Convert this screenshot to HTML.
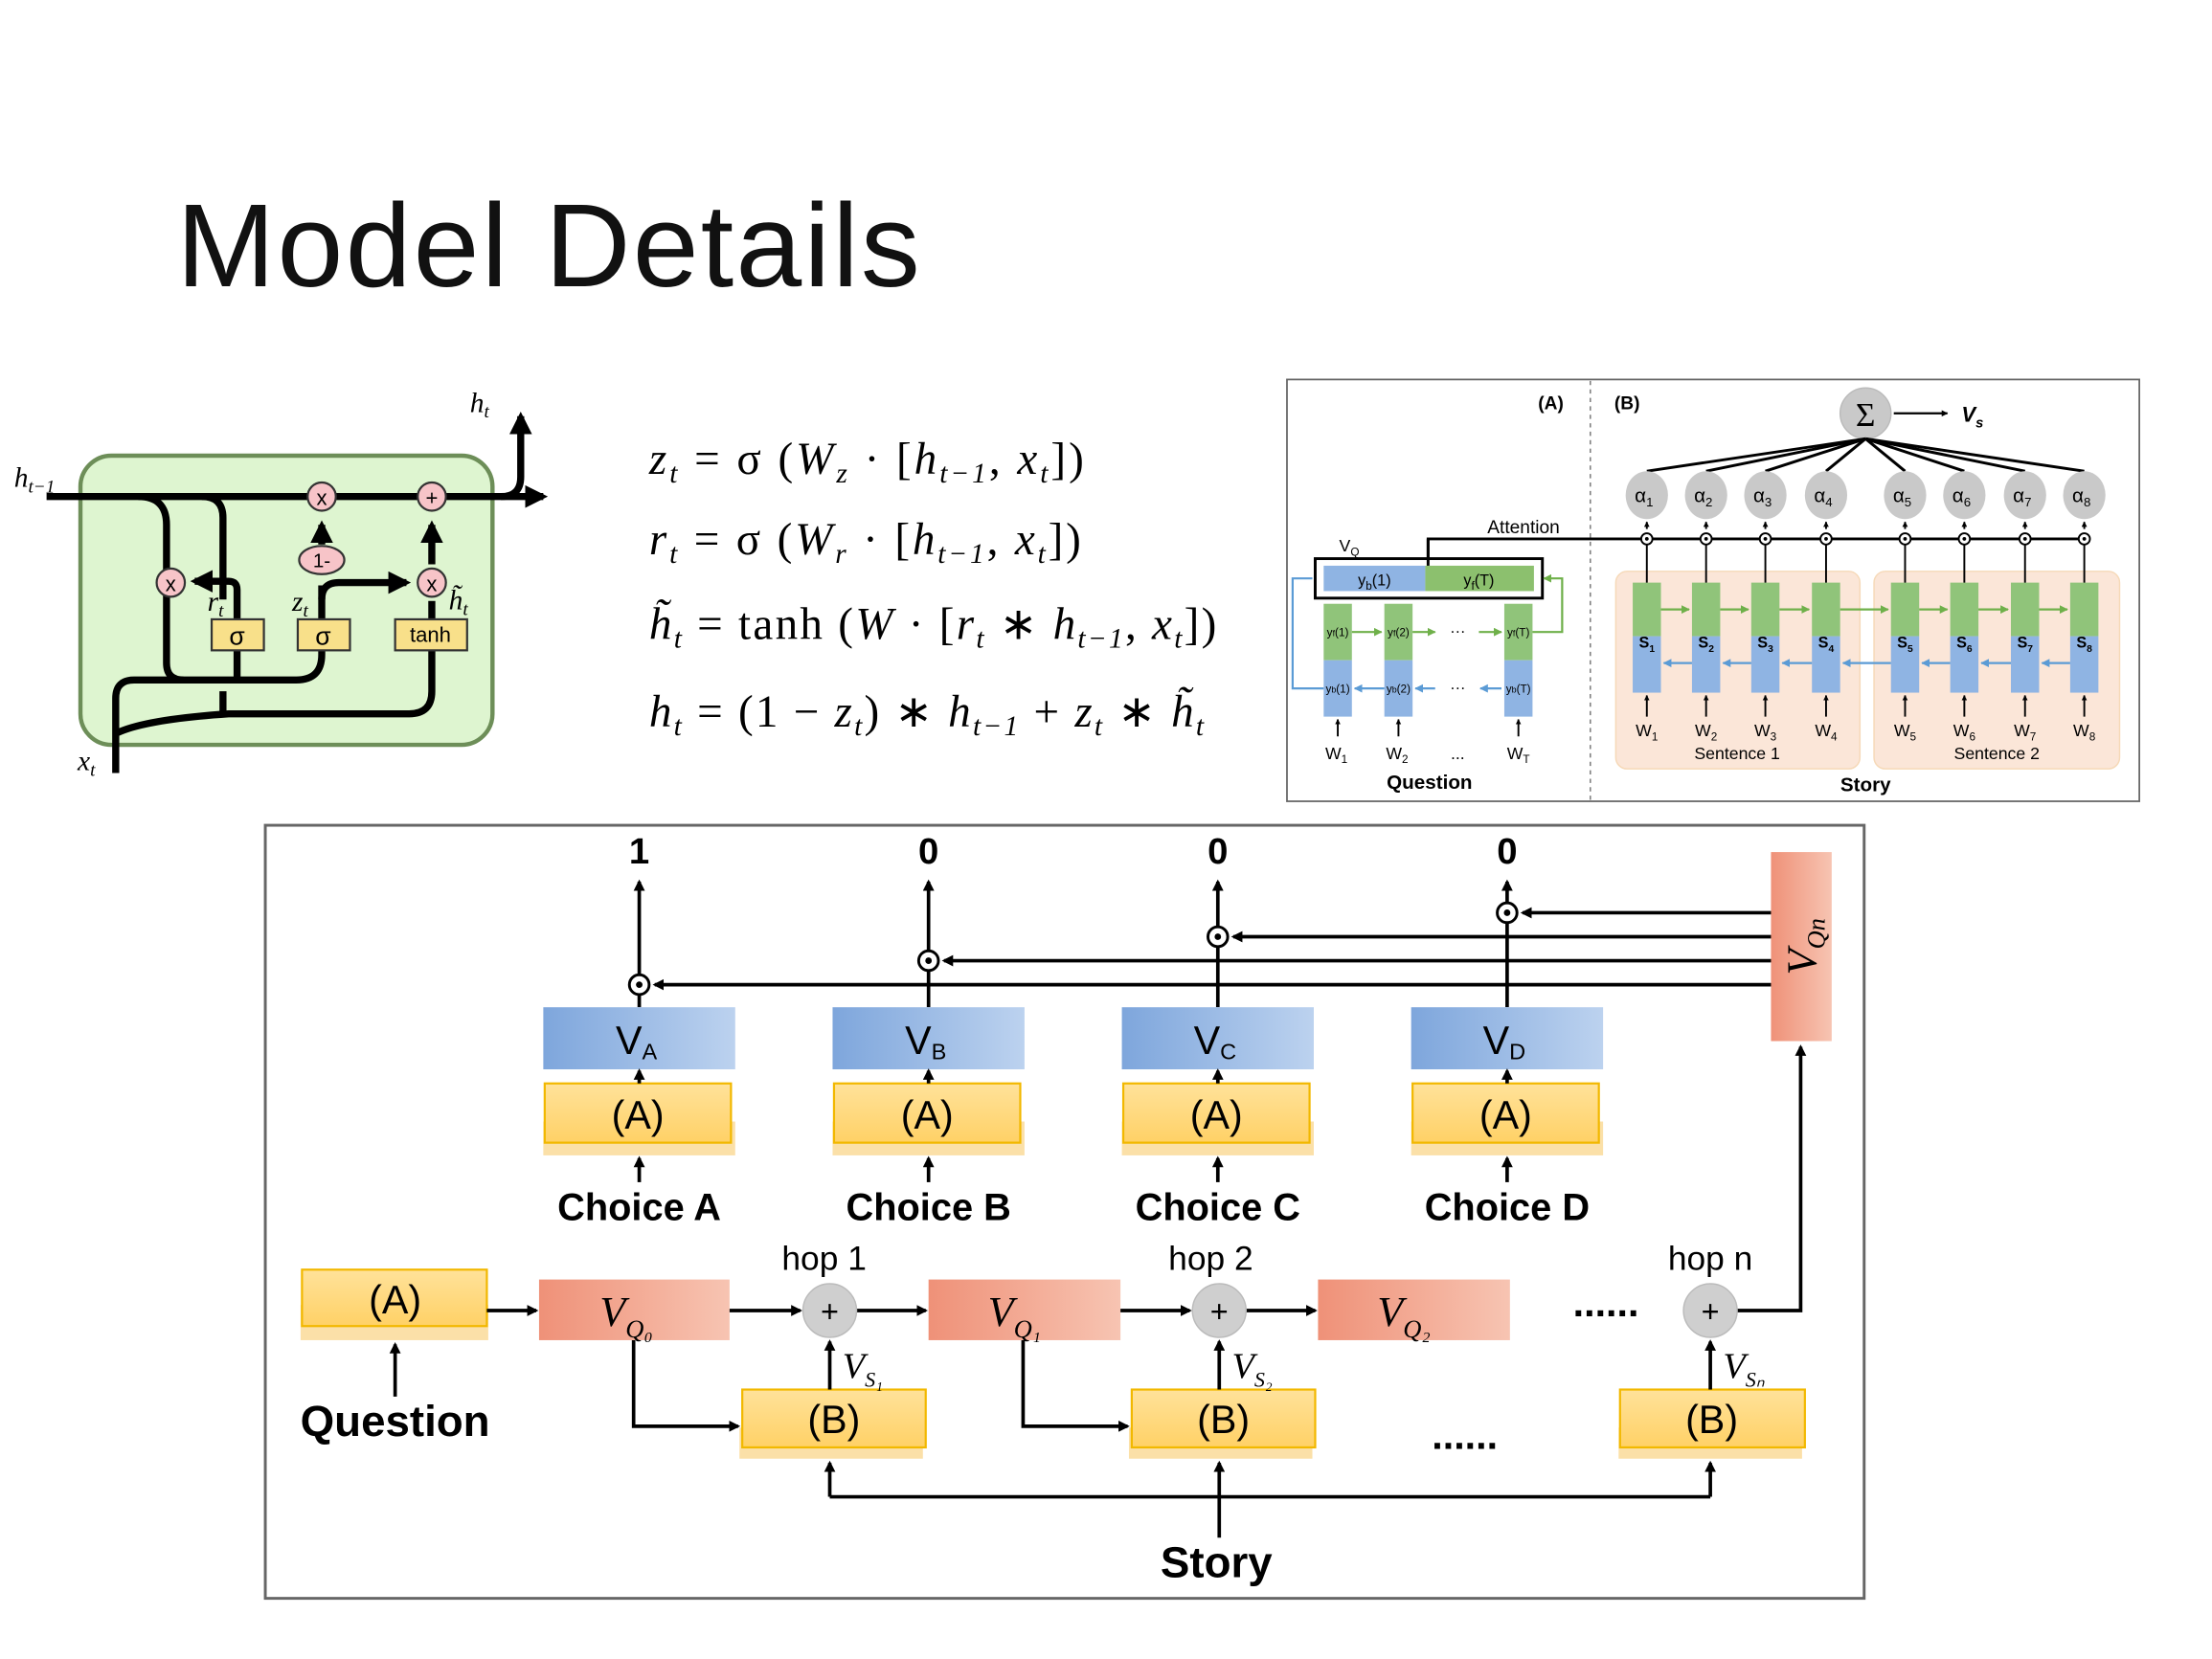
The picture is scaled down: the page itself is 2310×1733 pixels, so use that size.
<!DOCTYPE html>
<html><head><meta charset="utf-8"><style>
html,body{margin:0;padding:0;background:#fff;}
svg{display:block;}
.s{font-family:"Liberation Sans",sans-serif;}
.m{font-family:"Liberation Serif",serif;font-style:italic;}
.r{font-family:"Liberation Serif",serif;}
</style></head><body>
<svg width="2310" height="1733" viewBox="0 0 1567.5 1176" preserveAspectRatio="none" xmlns="http://www.w3.org/2000/svg">
<defs>
<marker id="ah" viewBox="0 0 10 10" refX="9" refY="5" markerWidth="4" markerHeight="4" orient="auto-start-reverse"><path d="M0,0L10,5L0,10z" fill="#000"/></marker>
<marker id="ab" viewBox="0 0 10 10" refX="9" refY="5" markerWidth="3" markerHeight="3" orient="auto"><path d="M0,0L10,5L0,10z" fill="#000"/></marker>
<marker id="ag" viewBox="0 0 10 10" refX="9" refY="5" markerWidth="4" markerHeight="4" orient="auto"><path d="M0,0L10,5L0,10z" fill="#6fb04a"/></marker>
<marker id="abl" viewBox="0 0 10 10" refX="9" refY="5" markerWidth="4" markerHeight="4" orient="auto"><path d="M0,0L10,5L0,10z" fill="#5b9bd5"/></marker>
<marker id="big" viewBox="0 0 10 10" refX="8" refY="5" markerWidth="3.2" markerHeight="3.2" orient="auto"><path d="M0,0L10,5L0,10z" fill="#000"/></marker>
<linearGradient id="gb" x1="0" x2="1"><stop offset="0" stop-color="#7ea6dc"/><stop offset="1" stop-color="#bcd2ef"/></linearGradient>
<linearGradient id="gs" x1="0" x2="1"><stop offset="0" stop-color="#ef9178"/><stop offset="1" stop-color="#f7c4b2"/></linearGradient>
<linearGradient id="gy" x1="0" x2="0" y1="0" y2="1"><stop offset="0" stop-color="#ffe29a"/><stop offset="1" stop-color="#ffd166"/></linearGradient>
</defs>

<text x="125" y="203" class="s" font-size="84" textLength="527" fill="#111">Model Details</text>

<!-- GRU -->
<rect x="57" y="323" width="292" height="205" rx="22" fill="#def5d0" stroke="#6d8e58" stroke-width="3"/>
<g fill="none" stroke="#000" stroke-width="5">
<path d="M33,352H385" marker-end="url(#big)"/>
<path d="M355,352q14,0 14,-14V295" marker-end="url(#big)"/>
<path d="M98,352q20,0 20,20V470q0,12 12,12H210q18,0 18,-18V460"/>
<path d="M168,460V482"/>
<path d="M143,352q15,0 15,15V425"/>
<path d="M82,548V495q0,-13 13,-13H130"/>
<path d="M82,520q20,-10 80,-14H290q16,0 16,-16V461"/>
<path d="M158,490V505"/>
<path d="M228,439V415"/>
<path d="M228,386V372" marker-end="url(#big)"/>
<path d="M168,439V418q0,-6 -6,-6H138" marker-end="url(#big)"/>
<path d="M228,425q0,-12 12,-12H288" marker-end="url(#big)"/>
<path d="M306,439V426"/>
<path d="M306,400V372" marker-end="url(#big)"/>
</g>
<g stroke="#333" stroke-width="1.5" fill="#f7c4c8">
<circle cx="228" cy="352" r="10"/><circle cx="306" cy="352" r="10"/>
<circle cx="121" cy="413" r="10"/><circle cx="306" cy="413" r="10"/>
<ellipse cx="228" cy="397" rx="16" ry="10"/>
</g>
<g class="s" font-size="15" text-anchor="middle">
<text x="228" y="358">x</text><text x="306" y="358">+</text><text x="121" y="419">x</text><text x="306" y="419">x</text><text x="228" y="402" font-size="14">1-</text>
</g>
<g fill="#f8e08a" stroke="#333" stroke-width="1.5">
<rect x="150" y="439" width="37" height="22"/><rect x="211" y="439" width="37" height="22"/><rect x="280" y="439" width="51" height="22"/>
</g>
<g class="s" text-anchor="middle"><text x="168" y="457" font-size="18">σ</text><text x="229" y="457" font-size="18">σ</text><text x="305" y="455" font-size="15">tanh</text></g>
<g class="m" font-size="20">
<text x="10" y="345">h<tspan font-size="13" dy="4">t−1</tspan></text>
<text x="333" y="292">h<tspan font-size="13" dy="4">t</tspan></text>
<text x="147" y="433">r<tspan font-size="13" dy="4">t</tspan></text>
<text x="207" y="433">z<tspan font-size="13" dy="4">t</tspan></text>
<text x="318" y="432">h̃<tspan font-size="13" dy="4">t</tspan></text>
<text x="55" y="546">x<tspan font-size="13" dy="4">t</tspan></text>
</g>

<!-- equations -->
<g font-size="32" class="r">
<text x="460" y="336" textLength="308" lengthAdjust="spacing"><tspan font-style="italic">z</tspan><tspan font-size="20" font-style="italic" dy="6">t</tspan><tspan dy="-6"> = σ (</tspan><tspan font-style="italic">W</tspan><tspan font-size="20" font-style="italic" dy="6">z</tspan><tspan dy="-6"> · [</tspan><tspan font-style="italic">h</tspan><tspan font-size="20" font-style="italic" dy="6">t−1</tspan><tspan dy="-6">, </tspan><tspan font-style="italic">x</tspan><tspan font-size="20" font-style="italic" dy="6">t</tspan><tspan dy="-6">])</tspan></text>
<text x="460" y="393" textLength="306" lengthAdjust="spacing"><tspan font-style="italic">r</tspan><tspan font-size="20" font-style="italic" dy="6">t</tspan><tspan dy="-6"> = σ (</tspan><tspan font-style="italic">W</tspan><tspan font-size="20" font-style="italic" dy="6">r</tspan><tspan dy="-6"> · [</tspan><tspan font-style="italic">h</tspan><tspan font-size="20" font-style="italic" dy="6">t−1</tspan><tspan dy="-6">, </tspan><tspan font-style="italic">x</tspan><tspan font-size="20" font-style="italic" dy="6">t</tspan><tspan dy="-6">])</tspan></text>
<text x="460" y="453" textLength="402" lengthAdjust="spacing"><tspan font-style="italic">h̃</tspan><tspan font-size="20" font-style="italic" dy="6">t</tspan><tspan dy="-6"> = tanh (</tspan><tspan font-style="italic">W</tspan><tspan> · [</tspan><tspan font-style="italic">r</tspan><tspan font-size="20" font-style="italic" dy="6">t</tspan><tspan dy="-6"> ∗ </tspan><tspan font-style="italic">h</tspan><tspan font-size="20" font-style="italic" dy="6">t−1</tspan><tspan dy="-6">, </tspan><tspan font-style="italic">x</tspan><tspan font-size="20" font-style="italic" dy="6">t</tspan><tspan dy="-6">])</tspan></text>
<text x="460" y="515" textLength="393" lengthAdjust="spacing"><tspan font-style="italic">h</tspan><tspan font-size="20" font-style="italic" dy="6">t</tspan><tspan dy="-6"> = (1 − </tspan><tspan font-style="italic">z</tspan><tspan font-size="20" font-style="italic" dy="6">t</tspan><tspan dy="-6">) ∗ </tspan><tspan font-style="italic">h</tspan><tspan font-size="20" font-style="italic" dy="6">t−1</tspan><tspan dy="-6"> + </tspan><tspan font-style="italic">z</tspan><tspan font-size="20" font-style="italic" dy="6">t</tspan><tspan dy="-6"> ∗ </tspan><tspan font-style="italic">h̃</tspan><tspan font-size="20" font-style="italic" dy="6">t</tspan></text>
</g>

<!-- Panel A/B -->
<rect x="912" y="269" width="604" height="299" fill="#fff" stroke="#666" stroke-width="1.2"/>
<line x1="1127" y1="270" x2="1127" y2="567" stroke="#555" stroke-dasharray="3,3" stroke-width="0.8"/>
<g class="s" font-weight="bold" font-size="13"><text x="1090" y="290">(A)</text><text x="1144" y="290">(B)</text>
<text x="1013" y="559" text-anchor="middle" font-size="14">Question</text><text x="1322" y="561" text-anchor="middle" font-size="14">Story</text></g>
<circle cx="1322" cy="293" r="18" fill="#c9c9c9" stroke="#bbb"/>
<text x="1322" y="302" text-anchor="middle" class="r" font-size="24">Σ</text>
<path d="M1342,293H1380" stroke="#000" stroke-width="1.5" marker-end="url(#ab)"/>
<text x="1390" y="299" class="s" font-style="italic" font-weight="bold" font-size="15">V<tspan font-size="10" dy="4">s</tspan></text>
<rect x="1145" y="405" width="173" height="140" rx="8" fill="#fbe6d8" stroke="#f6d9b8"/>
<rect x="1328" y="405" width="174" height="140" rx="8" fill="#fbe6d8" stroke="#f6d9b8"/>
<g stroke="#000" stroke-width="2">
<line x1="1167" y1="334" x2="1322" y2="311"/><line x1="1209" y1="334" x2="1322" y2="311"/><line x1="1251" y1="334" x2="1322" y2="311"/><line x1="1294" y1="334" x2="1322" y2="311"/>
<line x1="1350" y1="334" x2="1322" y2="311"/><line x1="1392" y1="334" x2="1322" y2="311"/><line x1="1435" y1="334" x2="1322" y2="311"/><line x1="1477" y1="334" x2="1322" y2="311"/>
<path d="M1012,397V382H1477" fill="none"/>
</g>
<rect x="932" y="396" width="161" height="28" fill="#fff" stroke="#000" stroke-width="2"/>
<rect x="938" y="401" width="72" height="18" fill="#8fb4e3"/><rect x="1010" y="401" width="77" height="18" fill="#8cc06e"/>
<line x1="1012" y1="382" x2="1012" y2="401" stroke="#000" stroke-width="2"/>
<g class="s" font-size="11" text-anchor="middle"><text x="974" y="415">y<tspan font-size="8" dy="3">b</tspan><tspan dy="-3">(1)</tspan></text><text x="1048" y="415">y<tspan font-size="8" dy="3">f</tspan><tspan dy="-3">(T)</tspan></text></g>
<text x="949" y="391" class="s" font-size="12">V<tspan font-size="8" dy="3">Q</tspan></text>
<text x="1054" y="378" class="s" font-size="13">Attention</text>
<g>
<rect x="938" y="428" width="20" height="40" fill="#90c47a"/><rect x="938" y="468" width="20" height="40" fill="#8fb4e3"/>
<rect x="981" y="428" width="20" height="40" fill="#90c47a"/><rect x="981" y="468" width="20" height="40" fill="#8fb4e3"/>
<rect x="1066" y="428" width="20" height="40" fill="#90c47a"/><rect x="1066" y="468" width="20" height="40" fill="#8fb4e3"/>
</g>
<g class="s" font-size="8" text-anchor="middle"><text x="948" y="451">y<tspan font-size="6">f</tspan>(1)</text><text x="991" y="451">y<tspan font-size="6">f</tspan>(2)</text><text x="1076" y="451">y<tspan font-size="6">f</tspan>(T)</text>
<text x="948" y="491">y<tspan font-size="6">b</tspan>(1)</text><text x="991" y="491">y<tspan font-size="6">b</tspan>(2)</text><text x="1076" y="491">y<tspan font-size="6">b</tspan>(T)</text>
<text x="1033" y="451" font-size="11">···</text><text x="1033" y="491" font-size="11">···</text></g>
<g stroke="#6fb04a" stroke-width="1.5" fill="none"><path d="M958,448H979" marker-end="url(#ag)"/><path d="M1001,448H1017" marker-end="url(#ag)"/><path d="M1048,448H1064" marker-end="url(#ag)"/><path d="M1086,448H1107V410H1094" marker-end="url(#ag)"/></g>
<g stroke="#5b9bd5" stroke-width="1.5" fill="none"><path d="M981,488H960" marker-end="url(#abl)"/><path d="M1017,488H1003" marker-end="url(#abl)"/><path d="M1064,488H1049" marker-end="url(#abl)"/><path d="M938,488H916V410H930"/></g>
<g stroke="#000" stroke-width="1.3"><path d="M948,522V510" marker-end="url(#ab)"/><path d="M991,522V510" marker-end="url(#ab)"/><path d="M1076,522V510" marker-end="url(#ab)"/></g>
<g class="s" font-size="12" text-anchor="middle"><text x="947" y="538">W<tspan font-size="8" dy="3">1</tspan></text><text x="990" y="538">W<tspan font-size="8" dy="3">2</tspan></text><text x="1033" y="538">...</text><text x="1076" y="538">W<tspan font-size="8" dy="3">T</tspan></text></g>
<g>
<rect x="1157" y="413" width="20" height="38" fill="#90c47a"/><rect x="1157" y="451" width="20" height="40" fill="#8fb4e3"/>
<rect x="1199" y="413" width="20" height="38" fill="#90c47a"/><rect x="1199" y="451" width="20" height="40" fill="#8fb4e3"/>
<rect x="1241" y="413" width="20" height="38" fill="#90c47a"/><rect x="1241" y="451" width="20" height="40" fill="#8fb4e3"/>
<rect x="1284" y="413" width="20" height="38" fill="#90c47a"/><rect x="1284" y="451" width="20" height="40" fill="#8fb4e3"/>
<rect x="1340" y="413" width="20" height="38" fill="#90c47a"/><rect x="1340" y="451" width="20" height="40" fill="#8fb4e3"/>
<rect x="1382" y="413" width="20" height="38" fill="#90c47a"/><rect x="1382" y="451" width="20" height="40" fill="#8fb4e3"/>
<rect x="1425" y="413" width="20" height="38" fill="#90c47a"/><rect x="1425" y="451" width="20" height="40" fill="#8fb4e3"/>
<rect x="1467" y="413" width="20" height="38" fill="#90c47a"/><rect x="1467" y="451" width="20" height="40" fill="#8fb4e3"/>
</g>
<g stroke="#6fb04a" stroke-width="1.5"><path d="M1177,432H1197" marker-end="url(#ag)"/><path d="M1219,432H1239" marker-end="url(#ag)"/><path d="M1261,432H1282" marker-end="url(#ag)"/><path d="M1304,432H1338" marker-end="url(#ag)"/><path d="M1360,432H1380" marker-end="url(#ag)"/><path d="M1402,432H1423" marker-end="url(#ag)"/><path d="M1445,432H1465" marker-end="url(#ag)"/></g>
<g stroke="#5b9bd5" stroke-width="1.5"><path d="M1199,470H1179" marker-end="url(#abl)"/><path d="M1241,470H1221" marker-end="url(#abl)"/><path d="M1284,470H1263" marker-end="url(#abl)"/><path d="M1340,470H1306" marker-end="url(#abl)"/><path d="M1382,470H1362" marker-end="url(#abl)"/><path d="M1425,470H1404" marker-end="url(#abl)"/><path d="M1467,470H1447" marker-end="url(#abl)"/></g>
<g stroke="#000" stroke-width="1.3" fill="none">
<path d="M1167,413V382M1209,413V382M1251,413V382M1294,413V382M1350,413V382M1392,413V382M1435,413V382M1477,413V382"/>
<path d="M1167,375V370" marker-end="url(#ab)"/><path d="M1209,375V370" marker-end="url(#ab)"/><path d="M1251,375V370" marker-end="url(#ab)"/><path d="M1294,375V370" marker-end="url(#ab)"/><path d="M1350,375V370" marker-end="url(#ab)"/><path d="M1392,375V370" marker-end="url(#ab)"/><path d="M1435,375V370" marker-end="url(#ab)"/><path d="M1477,375V370" marker-end="url(#ab)"/>
<path d="M1167,508V493" marker-end="url(#ab)"/><path d="M1209,508V493" marker-end="url(#ab)"/><path d="M1251,508V493" marker-end="url(#ab)"/><path d="M1294,508V493" marker-end="url(#ab)"/><path d="M1350,508V493" marker-end="url(#ab)"/><path d="M1392,508V493" marker-end="url(#ab)"/><path d="M1435,508V493" marker-end="url(#ab)"/><path d="M1477,508V493" marker-end="url(#ab)"/>
</g>
<g fill="#fff" stroke="#000" stroke-width="1.3">
<circle cx="1167" cy="382" r="4"/><circle cx="1209" cy="382" r="4"/><circle cx="1251" cy="382" r="4"/><circle cx="1294" cy="382" r="4"/><circle cx="1350" cy="382" r="4"/><circle cx="1392" cy="382" r="4"/><circle cx="1435" cy="382" r="4"/><circle cx="1477" cy="382" r="4"/>
</g>
<g fill="#000"><circle cx="1167" cy="382" r="1.3"/><circle cx="1209" cy="382" r="1.3"/><circle cx="1251" cy="382" r="1.3"/><circle cx="1294" cy="382" r="1.3"/><circle cx="1350" cy="382" r="1.3"/><circle cx="1392" cy="382" r="1.3"/><circle cx="1435" cy="382" r="1.3"/><circle cx="1477" cy="382" r="1.3"/></g>
<g fill="#c9c9c9"><ellipse cx="1167" cy="351" rx="15" ry="17"/><ellipse cx="1209" cy="351" rx="15" ry="17"/><ellipse cx="1251" cy="351" rx="15" ry="17"/><ellipse cx="1294" cy="351" rx="15" ry="17"/><ellipse cx="1350" cy="351" rx="15" ry="17"/><ellipse cx="1392" cy="351" rx="15" ry="17"/><ellipse cx="1435" cy="351" rx="15" ry="17"/><ellipse cx="1477" cy="351" rx="15" ry="17"/></g>
<g class="s" font-size="14" text-anchor="middle">
<text x="1165" y="356">α<tspan font-size="9" dy="3">1</tspan></text><text x="1207" y="356">α<tspan font-size="9" dy="3">2</tspan></text><text x="1249" y="356">α<tspan font-size="9" dy="3">3</tspan></text><text x="1292" y="356">α<tspan font-size="9" dy="3">4</tspan></text><text x="1348" y="356">α<tspan font-size="9" dy="3">5</tspan></text><text x="1390" y="356">α<tspan font-size="9" dy="3">6</tspan></text><text x="1433" y="356">α<tspan font-size="9" dy="3">7</tspan></text><text x="1475" y="356">α<tspan font-size="9" dy="3">8</tspan></text>
</g>
<g class="s" font-size="11" font-weight="bold" text-anchor="middle">
<text x="1167" y="459">S<tspan font-size="7" dy="3">1</tspan></text><text x="1209" y="459">S<tspan font-size="7" dy="3">2</tspan></text><text x="1251" y="459">S<tspan font-size="7" dy="3">3</tspan></text><text x="1294" y="459">S<tspan font-size="7" dy="3">4</tspan></text><text x="1350" y="459">S<tspan font-size="7" dy="3">5</tspan></text><text x="1392" y="459">S<tspan font-size="7" dy="3">6</tspan></text><text x="1435" y="459">S<tspan font-size="7" dy="3">7</tspan></text><text x="1477" y="459">S<tspan font-size="7" dy="3">8</tspan></text>
</g>
<g class="s" font-size="12" text-anchor="middle">
<text x="1167" y="522">W<tspan font-size="8" dy="3">1</tspan></text><text x="1209" y="522">W<tspan font-size="8" dy="3">2</tspan></text><text x="1251" y="522">W<tspan font-size="8" dy="3">3</tspan></text><text x="1294" y="522">W<tspan font-size="8" dy="3">4</tspan></text><text x="1350" y="522">W<tspan font-size="8" dy="3">5</tspan></text><text x="1392" y="522">W<tspan font-size="8" dy="3">6</tspan></text><text x="1435" y="522">W<tspan font-size="8" dy="3">7</tspan></text><text x="1477" y="522">W<tspan font-size="8" dy="3">8</tspan></text>
<text x="1231" y="538">Sentence 1</text><text x="1415" y="538">Sentence 2</text>
</g>

<!-- Bottom diagram -->
<rect x="188" y="585" width="1133" height="548" fill="#fff" stroke="#666" stroke-width="2"/>
<g class="s" font-weight="bold" font-size="26" text-anchor="middle"><text x="453" y="612">1</text><text x="658" y="612">0</text><text x="863" y="612">0</text><text x="1068" y="612">0</text></g>
<g stroke="#000" stroke-width="2.5" fill="none">
<path d="M453,714V625" marker-end="url(#big)"/><path d="M658,714V625" marker-end="url(#big)"/><path d="M863,714V625" marker-end="url(#big)"/><path d="M1068,714V625" marker-end="url(#big)"/>
<path d="M1255,698H464" marker-end="url(#big)"/><path d="M1255,681H669" marker-end="url(#big)"/><path d="M1255,664H874" marker-end="url(#big)"/><path d="M1255,647H1079" marker-end="url(#big)"/>
</g>
<g fill="#fff" stroke="#000" stroke-width="2"><circle cx="453" cy="698" r="7"/><circle cx="658" cy="681" r="7"/><circle cx="863" cy="664" r="7"/><circle cx="1068" cy="647" r="7"/></g>
<g fill="#000"><circle cx="453" cy="698" r="2.3"/><circle cx="658" cy="681" r="2.3"/><circle cx="863" cy="664" r="2.3"/><circle cx="1068" cy="647" r="2.3"/></g>
<g fill="url(#gb)"><rect x="385" y="714" width="136" height="44"/><rect x="590" y="714" width="136" height="44"/><rect x="795" y="714" width="136" height="44"/><rect x="1000" y="714" width="136" height="44"/></g>
<g class="s" font-size="28" text-anchor="middle"><text x="451" y="747">V<tspan font-size="16" dy="4">A</tspan></text><text x="656" y="747">V<tspan font-size="16" dy="4">B</tspan></text><text x="861" y="747">V<tspan font-size="16" dy="4">C</tspan></text><text x="1066" y="747">V<tspan font-size="16" dy="4">D</tspan></text></g>
<g fill="#fbe0a8"><rect x="385" y="795" width="136" height="24"/><rect x="590" y="795" width="136" height="24"/><rect x="795" y="795" width="136" height="24"/><rect x="1000" y="795" width="136" height="24"/><rect x="213" y="925" width="133" height="25"/><rect x="524" y="1012" width="130" height="22"/><rect x="800" y="1012" width="130" height="22"/><rect x="1147" y="1012" width="130" height="22"/></g>
<g fill="url(#gy)" stroke="#f2b800" stroke-width="1.5">
<rect x="386" y="768" width="132" height="42"/><rect x="591" y="768" width="132" height="42"/><rect x="796" y="768" width="132" height="42"/><rect x="1001" y="768" width="132" height="42"/>
<rect x="214" y="900" width="131" height="40"/>
<rect x="526" y="985" width="130" height="41"/><rect x="802" y="985" width="130" height="41"/><rect x="1148" y="985" width="131" height="41"/>
</g>
<g class="s" font-size="28" text-anchor="middle"><text x="452" y="800">(A)</text><text x="657" y="800">(A)</text><text x="862" y="800">(A)</text><text x="1067" y="800">(A)</text><text x="280" y="931">(A)</text>
<text x="591" y="1016">(B)</text><text x="867" y="1016">(B)</text><text x="1213" y="1016">(B)</text></g>
<g stroke="#000" stroke-width="2.5" fill="none">
<path d="M453,768V759" marker-end="url(#big)"/><path d="M658,768V759" marker-end="url(#big)"/><path d="M863,768V759" marker-end="url(#big)"/><path d="M1068,768V759" marker-end="url(#big)"/>
<path d="M453,838V821" marker-end="url(#big)"/><path d="M658,838V821" marker-end="url(#big)"/><path d="M863,838V821" marker-end="url(#big)"/><path d="M1068,838V821" marker-end="url(#big)"/>
</g>
<g class="s" font-weight="bold" font-size="27" text-anchor="middle"><text x="453" y="865">Choice A</text><text x="658" y="865">Choice B</text><text x="863" y="865">Choice C</text><text x="1068" y="865">Choice D</text>
<text x="280" y="1018" font-size="31">Question</text><text x="862" y="1118" font-size="31">Story</text></g>
<rect x="1255" y="604" width="43" height="134" fill="url(#gs)"/>
<text transform="translate(1287,671) rotate(-90)" class="m" font-size="30" text-anchor="middle">V<tspan font-size="18" dy="6">Qn</tspan></text>
<g fill="url(#gs)"><rect x="382" y="907" width="135" height="43"/><rect x="658" y="907" width="136" height="43"/><rect x="934" y="907" width="136" height="43"/></g>
<g class="m" font-size="30"><text x="425" y="940">V<tspan font-size="18" dy="8">Q₀</tspan></text><text x="700" y="940">V<tspan font-size="18" dy="8">Q₁</tspan></text><text x="976" y="940">V<tspan font-size="18" dy="8">Q₂</tspan></text></g>
<g stroke="#000" stroke-width="2.5" fill="none">
<path d="M345,929H380" marker-end="url(#big)"/>
<path d="M517,929H567" marker-end="url(#big)"/><path d="M607,929H656" marker-end="url(#big)"/>
<path d="M794,929H843" marker-end="url(#big)"/><path d="M883,929H932" marker-end="url(#big)"/>
<path d="M1231,929H1276V742" marker-end="url(#big)"/>
<path d="M588,985V951" marker-end="url(#big)"/><path d="M864,985V951" marker-end="url(#big)"/><path d="M1212,985V951" marker-end="url(#big)"/>
<path d="M449,950V1011H523" marker-end="url(#big)"/><path d="M725,950V1011H799" marker-end="url(#big)"/>
<path d="M280,990V953" marker-end="url(#big)"/>
<path d="M864,1090V1037" marker-end="url(#big)"/>
<path d="M588,1061H1212"/><path d="M588,1061V1037" marker-end="url(#big)"/><path d="M1212,1061V1037" marker-end="url(#big)"/>
</g>
<g fill="#cfcfcf" stroke="#bbb"><circle cx="588" cy="929" r="19"/><circle cx="864" cy="929" r="19"/><circle cx="1212" cy="929" r="19"/></g>
<g class="s" font-size="22" text-anchor="middle"><text x="588" y="937">+</text><text x="864" y="937">+</text><text x="1212" y="937">+</text></g>
<g class="s" font-size="24" text-anchor="middle"><text x="584" y="900">hop 1</text><text x="858" y="900">hop 2</text><text x="1212" y="900">hop n</text></g>
<g class="m" font-size="26"><text x="597" y="977">V<tspan font-size="15" dy="6">S₁</tspan></text><text x="873" y="977">V<tspan font-size="15" dy="6">S₂</tspan></text><text x="1221" y="977">V<tspan font-size="15" dy="6">Sₙ</tspan></text></g>
<g class="s" font-weight="bold" font-size="28" text-anchor="middle"><text x="1138" y="933">......</text><text x="1038" y="1027">......</text></g>
</svg>
</body></html>
